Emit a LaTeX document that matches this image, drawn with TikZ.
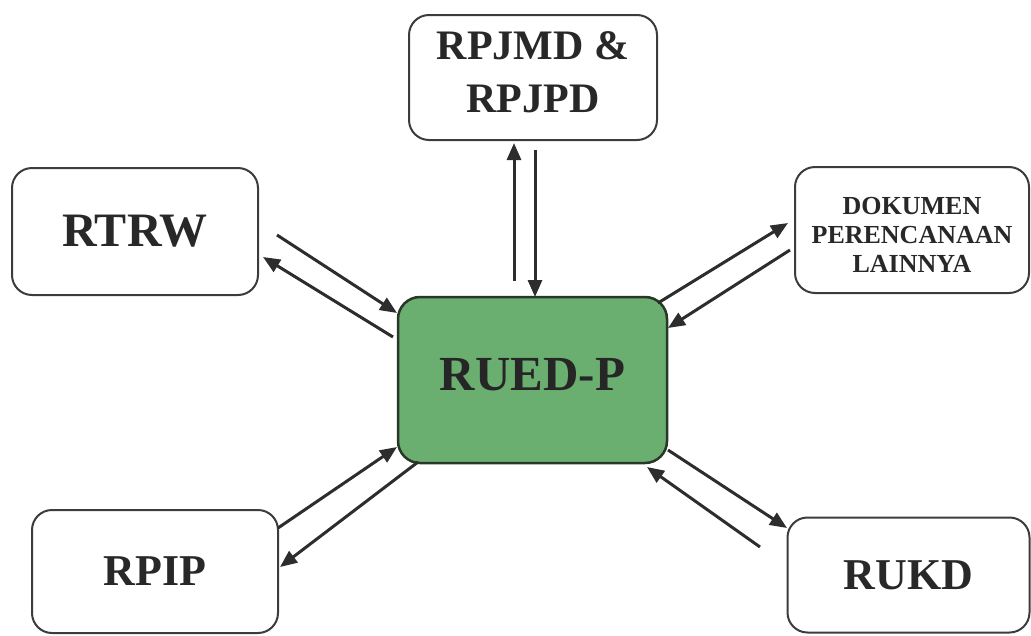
\documentclass[tikz,border=0pt]{standalone}
\usepackage{fontspec}
\setmainfont{Liberation Serif}
\usetikzlibrary{arrows.meta}
\definecolor{boxline}{RGB}{60,60,60}
\definecolor{arrowc}{RGB}{45,45,45}
\definecolor{ruedfill}{RGB}{106,174,112}
\definecolor{ruedline}{RGB}{40,55,40}
\definecolor{txt}{RGB}{40,40,40}
\tikzset{
  docbox/.style={draw=boxline, line width=2pt, rounded corners=20pt, fill=white,
    text=txt, font=\bfseries, align=center, inner sep=0pt},
  centerbox/.style={draw=ruedline, line width=2.5pt, rounded corners=22pt, fill=ruedfill,
    text=black!85, font=\bfseries\fontsize{49}{56}\selectfont, inner sep=0pt},
  flow/.style={draw=arrowc, line width=3pt, -{Triangle[length=17pt,width=14pt]}}
}
\begin{document}
\begin{tikzpicture}[x=1pt,y=-1pt]
\useasboundingbox (0,0) rectangle (1031,635);
\node[docbox, minimum width=248pt, minimum height=125pt, font=\bfseries\fontsize{42}{50}\selectfont] (top) at (533,77.5) {\raisebox{0pt}[\height][\dimexpr\depth+4pt]{\renewcommand{\arraystretch}{1.05}\begin{tabular}{@{}c@{}}RPJMD \&\\RPJPD\end{tabular}}};
\node[docbox, minimum width=246pt, minimum height=127pt, font=\bfseries\fontsize{48}{50}\selectfont] (rtrw) at (135,231.5) {RTRW};
\node[docbox, minimum width=234pt, minimum height=126pt, font=\bfseries\fontsize{26}{29}\selectfont] (dok) at (912,230) {\raisebox{0pt}[\dimexpr\height+16pt][\depth]{\begin{tabular}{@{}c@{}}DOKUMEN\\PERENCANAAN\\LAINNYA\end{tabular}}};
\node[centerbox, minimum width=269pt, minimum height=166pt] (rued) at (532.5,380) {\raisebox{0pt}[\height][\dimexpr\depth+10pt]{RUED-P}};
\node[docbox, minimum width=246pt, minimum height=123pt, font=\bfseries\fontsize{44}{46}\selectfont] (rpip) at (155,571.5) {RPIP};
\node[docbox, minimum width=242pt, minimum height=115pt, font=\bfseries\fontsize{44}{46}\selectfont] (rukd) at (908.5,575) {RUKD};
% arrow end points
\coordinate (a1s) at (514,281); \coordinate (a1e) at (514,143);
\coordinate (a2s) at (535,150); \coordinate (a2e) at (535,297);
\coordinate (a3s) at (277,235); \coordinate (a3e) at (397,313);
\coordinate (a4s) at (393,337); \coordinate (a4e) at (263,257);
\coordinate (a5s) at (658,303); \coordinate (a5e) at (788,223);
\coordinate (a6s) at (790,250); \coordinate (a6e) at (668,328);
\coordinate (a7s) at (668,450); \coordinate (a7e) at (787,528);
\coordinate (a8s) at (760,547); \coordinate (a8e) at (647,467);
\coordinate (a9s) at (278,528); \coordinate (a9e) at (397,447);
\coordinate (a10s) at (418,462); \coordinate (a10e) at (280,567);
\draw[flow] (a1s) -- (a1e);
\draw[flow] (a2s) -- (a2e);
\draw[flow] (a3s) -- (a3e);
\draw[flow] (a4s) -- (a4e);
\draw[flow] (a5s) -- (a5e);
\draw[flow] (a6s) -- (a6e);
\draw[flow] (a7s) -- (a7e);
\draw[flow] (a8s) -- (a8e);
\draw[flow] (a9s) -- (a9e);
\draw[flow] (a10s) -- (a10e);
\end{tikzpicture}
\end{document}
